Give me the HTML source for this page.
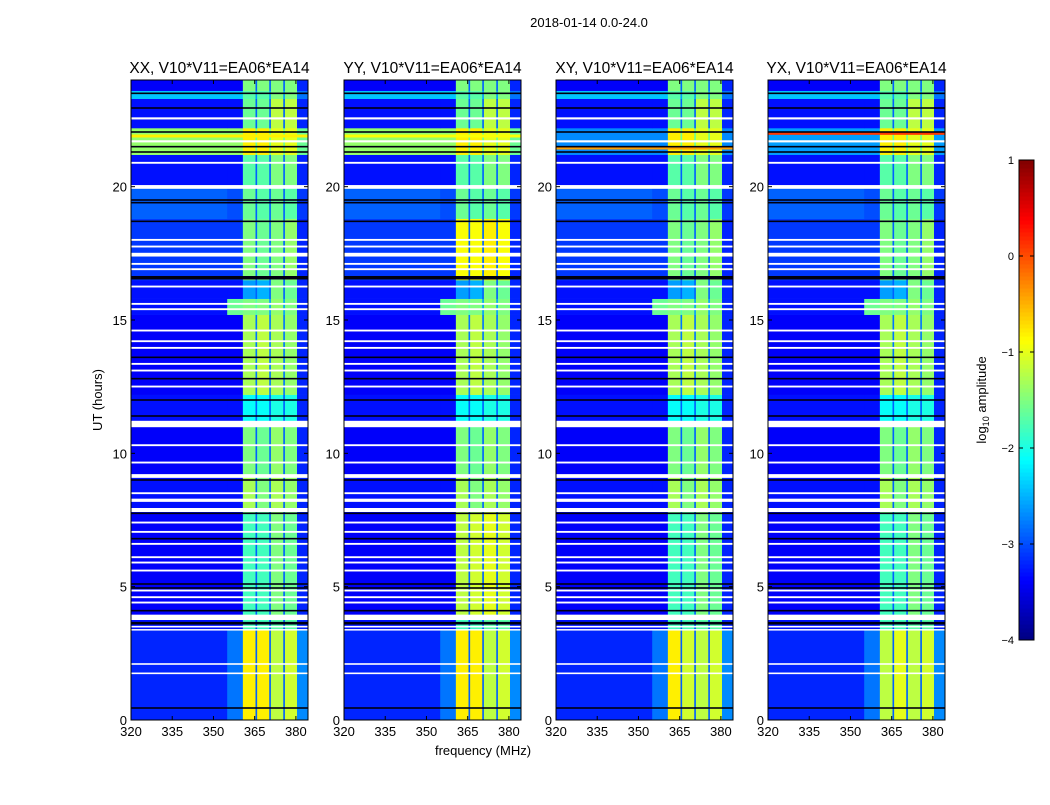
<!DOCTYPE html>
<html><head><meta charset="utf-8"><style>
body{margin:0;background:#fff}
svg text{font-family:"Liberation Sans",sans-serif}
</style></head><body>
<svg id="fig" width="1050" height="800" xmlns="http://www.w3.org/2000/svg">
<text x="589" y="27" font-size="13" text-anchor="middle">2018-01-14 0.0-24.0</text>
<text x="483" y="755" font-size="13" text-anchor="middle">frequency (MHz)</text>
<text transform="translate(102,400) rotate(-90)" font-size="13" text-anchor="middle">UT (hours)</text>
<g id="panels"></g>
<g id="cbar"></g>
<text transform="translate(986,400) rotate(-90)" font-size="13" text-anchor="middle">log<tspan font-size="9" dy="3">10</tspan><tspan dy="-3"> amplitude</tspan></text>
</svg>
<script>
const panelTitles = ["XX, V10*V11=EA06*EA14","YY, V10*V11=EA06*EA14","XY, V10*V11=EA06*EA14","YX, V10*V11=EA06*EA14"];
const xTicks = [320,335,350,365,380];
const yTicks = [0,5,10,15,20];
const cbarTicks = [1,0,-1,-2,-3,-4];
const freqEdges = [320,355,360.7,365.3,365.9,370.3,370.9,375.4,376.0,380.4,384.4];
const timeEdges = [0,3.4,3.9,7.8,9.1,11.0,12.2,15.2,15.8,16.5,18.8,20.0,21.2,22.2,23.3,23.6,24];
const blockLevels = [
[-3.2,-2.8,-0.8,-2.9,-0.8,-2.9,-1.2,-2.9,-1.1,-2.7],
[-3.3,-3.3,-1.8,-3.0,-1.8,-3.0,-1.7,-3.0,-1.7,-3.2],
[-3.4,-3.4,-1.8,-2.9,-1.8,-2.9,-1.5,-2.9,-1.6,-3.2],
[-3.3,-3.3,-1.3,-2.9,-1.5,-2.9,-1.3,-2.9,-1.4,-3.2],
[-3.4,-3.4,-1.5,-2.9,-1.6,-2.9,-1.4,-2.9,-1.5,-3.2],
[-3.3,-3.3,-2.1,-2.9,-2.1,-2.9,-2.0,-2.9,-2.0,-3.2],
[-3.4,-3.4,-1.3,-2.8,-1.2,-2.8,-1.3,-2.8,-1.4,-3.2],
[-3.3,-1.6,-1.5,-1.7,-1.5,-2.6,-1.4,-2.6,-1.5,-3.2],
[-3.3,-3.3,-2.6,-2.9,-2.5,-2.9,-1.5,-2.9,-1.6,-3.2],
[-3.1,-3.1,-1.5,-2.9,-1.6,-2.9,-1.5,-2.9,-1.4,-3.2],
[-2.9,-3.0,-1.6,-2.9,-1.7,-2.9,-1.6,-2.9,-1.7,-3.1],
[-3.3,-3.3,-1.7,-2.9,-1.7,-2.9,-1.5,-2.9,-1.5,-3.2],
[-1.4,-1.4,-0.8,-1.6,-0.8,-1.6,-1.0,-1.6,-1.0,-1.6],
[-3.3,-3.3,-1.6,-2.9,-1.6,-2.9,-1.2,-2.9,-1.2,-3.2],
[-2.4,-2.4,-1.7,-2.6,-1.7,-2.6,-1.5,-2.6,-1.5,-2.8],
[-3.4,-3.4,-1.5,-2.9,-1.5,-2.9,-1.5,-2.9,-1.5,-3.2]];
// [panel, block, column, level]
const overrides = [
[1,9,2,-0.9],[1,9,4,-0.9],[1,9,6,-0.8],[1,9,8,-0.9],
[1,2,2,-1.2],[1,2,4,-1.1],[1,2,6,-1.0],[1,2,8,-1.1],
[2,12,0,-2.7],[2,12,1,-2.7],[2,12,9,-2.7],
[3,12,0,-2.6],[3,12,1,-2.6],[3,12,9,-2.6],
[3,0,2,-1.2],[3,0,4,-1.0],[2,0,4,-1.1]];
// [panel, hour, level]
const colorLines = [[2,21.45,-0.4],[3,22.0,0.1],[0,21.9,-0.8],[1,21.9,-0.9]];
const whiteLines = [[22.52,22.6],[21.66,21.74],[20.86,20.93],[19.92,20.06],[17.97,18.04],[17.72,17.79],[17.38,17.52],[17.07,17.14],[16.87,16.94],[16.22,16.29],[15.57,15.64],[15.37,15.44],[14.57,14.64],[14.17,14.24],[13.92,13.99],[13.32,13.39],[13.07,13.14],[12.47,12.54],
[10.98,11.22],[10.27,10.34],[9.62,9.69],[9.08,9.22],[8.47,8.54],[8.18,8.3],[7.8,7.95],[7.37,7.44],[7.02,7.09],[6.57,6.64],[6.07,6.14],[5.87,5.94],[5.57,5.64],[4.82,4.89],[4.57,4.64],[4.37,4.44],[3.75,3.95],[3.47,3.53],[3.36,3.41],[2.07,2.13],[1.72,1.78]];
const blackLines = [[23.47,23.53],[22.92,22.98],[22.02,22.08],[21.47,21.53],[21.27,21.33],[19.47,19.53],[19.37,19.43],[18.67,18.73],[16.52,16.65],[13.57,13.63],[12.77,12.83],[11.97,12.03],[11.37,11.43],[8.97,9.03],[7.72,7.78],[6.77,6.83],[5.07,5.13],[4.92,4.98],[4.07,4.13],[3.58,3.68],[0.42,0.48]];

const lefts=[131,344,556,768], W=177, TOP=80, H=640;
const NS="http://www.w3.org/2000/svg";
function jet(v){let t=Math.max(0,Math.min(1,(v+4)/5));
 const c=x=>Math.round(255*Math.max(0,Math.min(1,x)));
 return `rgb(${c(1.5-Math.abs(4*t-3))},${c(1.5-Math.abs(4*t-2))},${c(1.5-Math.abs(4*t-1))})`;}
function mk(tag,attrs,parent){const e=document.createElementNS(NS,tag);for(const k in attrs)e.setAttribute(k,attrs[k]);parent.appendChild(e);return e;}
const yS=h=>TOP+H-h*H/24;
const panelsG=document.getElementById('panels');
lefts.forEach((L,p)=>{
 const xS=f=>L+(f-320)*W/64.4;
 const g=mk('g',{},panelsG);
 
 
 for(let b=0;b<timeEdges.length-1;b++){
  for(let c=0;c<freqEdges.length-1;c++){
   let v=blockLevels[b][c];
   overrides.forEach(o=>{if(o[0]===p&&o[1]===b&&o[2]===c)v=o[3];});
   const r=mk('rect',{x:xS(freqEdges[c]),y:yS(timeEdges[b+1]),width:xS(freqEdges[c+1])-xS(freqEdges[c])+0.3,height:yS(timeEdges[b])-yS(timeEdges[b+1])+0.3,fill:jet(v)},g);
   
   
  }
 }
 colorLines.filter(c=>c[0]===p).forEach(c=>{
  const r=mk('rect',{x:L,y:yS(c[1])-1.5,width:W,height:3,fill:jet(c[2])},g);
  
  
 });
 blackLines.forEach(l=>{
  const r=mk('rect',{x:L,y:yS(l[1]),width:W,height:Math.max(1,yS(l[0])-yS(l[1])),fill:'#000010'},g);
  
  
 });
 whiteLines.forEach(l=>{
  const r=mk('rect',{x:L,y:yS(l[1]),width:W,height:Math.max(1.5,yS(l[0])-yS(l[1])),fill:'#fff'},g);
  
  
 });
 const fr=mk('rect',{x:L,y:TOP,width:W,height:H,fill:'none',stroke:'#000','stroke-width':1},g);
 
 
 const t=mk('text',{x:L+W/2,y:TOP-7,'font-size':15.5,'text-anchor':'middle'},g);
 t.textContent=panelTitles[p];
 
 
 xTicks.forEach(f=>{
  const x=xS(f);
  mk('line',{x1:x,x2:x,y1:TOP+H,y2:TOP+H-4,stroke:'#000'},g);
  mk('line',{x1:x,x2:x,y1:TOP,y2:TOP+4,stroke:'#000'},g);
  const tx=mk('text',{x:x,y:TOP+H+16,'font-size':13,'text-anchor':'middle'},g);
  tx.textContent=f;
  
  
 });
 yTicks.forEach(h=>{
  const y=yS(h);
  mk('line',{x1:L,x2:L+4,y1:y,y2:y,stroke:'#000'},g);
  mk('line',{x1:L+W,x2:L+W-4,y1:y,y2:y,stroke:'#000'},g);
  const ty=mk('text',{x:L-4,y:y+5,'font-size':13,'text-anchor':'end'},g);
  ty.textContent=h;
  
  
 });
});
// colorbar
const cb=document.getElementById('cbar');
const CX=1019,CW=15,CT=160,CH=480;
for(let i=0;i<120;i++){
 const v=-4+5*(i+0.5)/120;
 mk('rect',{x:CX,y:CT+CH-(i+1)*CH/120,width:CW,height:CH/120+0.5,fill:jet(v)},cb);
}
mk('rect',{x:CX,y:CT,width:CW,height:CH,fill:'none',stroke:'#000'},cb);
cbarTicks.forEach(v=>{
 const y=CT+CH-(v+4)*CH/5;
 mk('line',{x1:CX,x2:CX+4,y1:y,y2:y,stroke:'#000'},cb);
 mk('line',{x1:CX+CW,x2:CX+CW-4,y1:y,y2:y,stroke:'#000'},cb);
 const t=mk('text',{x:CX-5,y:y+4,'font-size':11,'text-anchor':'end'},cb);
 t.textContent=v<0?'\u2212'+(-v):v;
 
 
});
</script>
</body></html>
